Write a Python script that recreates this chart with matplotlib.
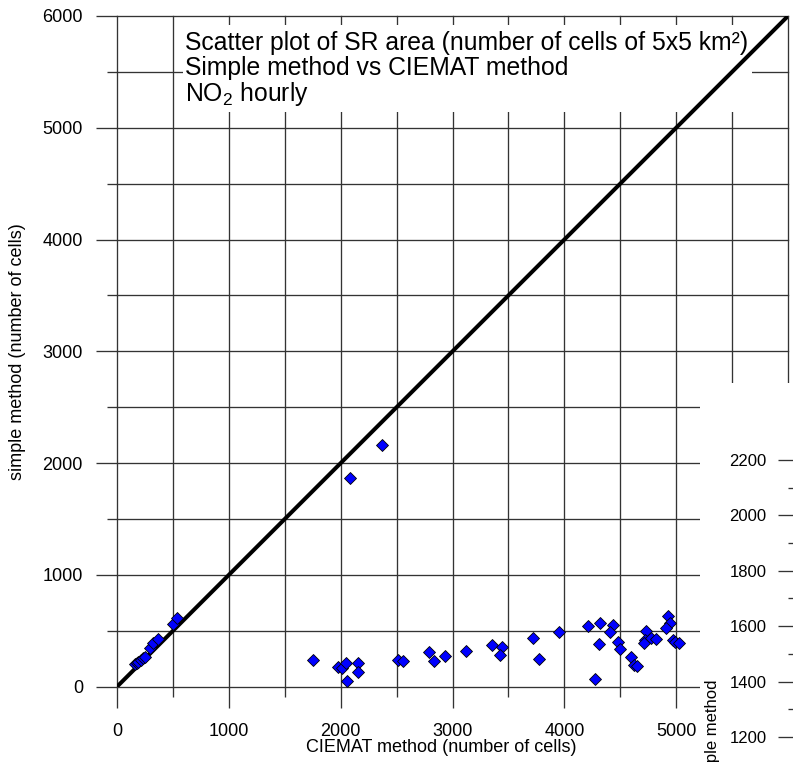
import matplotlib
matplotlib.use('Agg')
import matplotlib.pyplot as plt
from matplotlib.patches import Rectangle
from matplotlib.ticker import MultipleLocator, FixedLocator

plt.rcParams['font.family'] = ['Liberation Sans', 'DejaVu Sans']
plt.rcParams['mathtext.fontset'] = 'custom'
plt.rcParams['mathtext.rm'] = 'Liberation Sans'
plt.rcParams['mathtext.it'] = 'Liberation Sans:italic'

# SR area, number of cells (CIEMAT method on x, simple method on y)
ciemat = [161, 175, 191, 215, 230, 250, 295, 325, 370, 498, 534,
          2084, 2367,
          1750, 1980, 2010, 2045, 2153, 2159, 2055, 2516, 2555, 2790, 2838,
          2937, 3119, 3351, 3441, 3426, 3718, 3775, 3949,
          4216, 4320, 4431, 4404, 4314, 4270, 4479, 4500, 4598, 4619, 4649,
          4730, 4723, 4708, 4774, 4821, 4923, 4941, 4911, 4971, 4991, 5021]
simple = [200, 212, 224, 242, 255, 268, 343, 388, 424, 558, 612,
          1870, 2162,
          239, 173, 164, 215, 209, 129, 54, 239, 230, 308, 233,
          275, 322, 373, 358, 284, 433, 245, 492,
          543, 567, 552, 492, 379, 66, 397, 334, 268, 194, 188,
          498, 418, 388, 433, 424, 632, 567, 522, 418, 403, 388]
one_to_one = [0, 6000]

x_ticks = [0, 1000, 2000, 3000, 4000, 5000, 6000]
x_tick_labels = ['0', '1000', '2000', '3000', '4000', '5000', '']
y_ticks = [0, 1000, 2000, 3000, 4000, 5000, 6000]
inset_ticks = [1200, 1400, 1600, 1800, 2000, 2200]
inset_minor = [1300, 1500, 1700, 1900, 2100]

title_lines = ['Scatter plot of SR area (number of cells of 5x5 km\u00b2)',
               'Simple method vs CIEMAT method',
               'NO$_2$ hourly']

W, H = 793, 764
fig = plt.figure(figsize=(W / 100, H / 100), dpi=100)

ax = fig.add_axes([117 / W, 1 - 686.7 / H, 671 / W, 670.7 / H])
ax.set_xlim(0, 6000)
ax.set_ylim(0, 6000)
for s in ax.spines.values():
    s.set_visible(False)
ax.set_xticks(x_ticks)
ax.set_xticklabels(x_tick_labels)
ax.set_yticks(y_ticks)
ax.xaxis.set_minor_locator(MultipleLocator(500))
ax.yaxis.set_minor_locator(MultipleLocator(500))
gcol = '#333333'
ax.tick_params(which='major', direction='out', length=15, width=0.95,
               color=gcol, labelsize=13)
ax.tick_params(which='minor', direction='out', length=7.5, width=0.95,
               color=gcol)
ax.tick_params(axis='x', which='major', pad=11)
ax.tick_params(axis='y', which='major', pad=9.5)
ax.set_axisbelow(True)
ax.grid(True, which='both', color=gcol, linewidth=0.95)

# white box behind the title
ax.add_patch(Rectangle((183 / W, 1 - 112 / H), 569 / W, 87 / H,
                       transform=fig.transFigure, facecolor='white',
                       edgecolor='none', zorder=1, clip_on=False))

ax.plot(one_to_one, one_to_one, color='black', linewidth=2.9, zorder=2,
        solid_capstyle='butt')
ax.plot(ciemat, simple, linestyle='none', marker='D', markersize=6.5,
        markerfacecolor='#0000ff', markeredgecolor='black',
        markeredgewidth=0.6, zorder=3)

ax.set_xlabel('CIEMAT method (number of cells)', fontsize=13)
ax.xaxis.set_label_coords((441 - 117) / 671, -(739 - 686.7) / 670.7)
ax.set_ylabel('simple method (number of cells)', fontsize=13)
ax.yaxis.set_label_coords(-(117 - 26) / 671, 0.5)

for i, line in enumerate(title_lines):
    fig.text(185 / W, 1 - (50 + 25.5 * i) / H, line, fontsize=17.8,
             ha='left', va='baseline')

# part of a second chart that overlaps the bottom right corner
fig.patches.append(Rectangle((700 / W, 0), 93 / W, (H - 383) / H,
                             transform=fig.transFigure, facecolor='white',
                             edgecolor='none', zorder=1))
ax2 = fig.add_axes([1.0, 0, 0.3, (H - 383) / H], zorder=2)
ax2.patch.set_visible(False)
for s in ax2.spines.values():
    s.set_visible(False)
ax2.set_xticks([])
ax2.set_ylim(1102.5, 2478)
ax2.yaxis.set_major_locator(FixedLocator(inset_ticks))
ax2.yaxis.set_minor_locator(FixedLocator(inset_minor))
ax2.tick_params(which='major', direction='out', length=11, width=0.95,
                color=gcol, labelsize=12, pad=8)
ax2.tick_params(which='minor', direction='out', length=3.6, width=0.95,
                color=gcol)
fig.text(712 / W, 1 - 680 / H, 'simple method', rotation=90, fontsize=12,
         ha='center', va='top')

# keep the grid lines on the axes edges fully visible
fig.canvas.draw()
for axis in (ax.xaxis, ax.yaxis):
    for t in axis.get_major_ticks() + axis.get_minor_ticks():
        t.gridline.set_clip_on(False)

fig.savefig('out.png', dpi=100)
